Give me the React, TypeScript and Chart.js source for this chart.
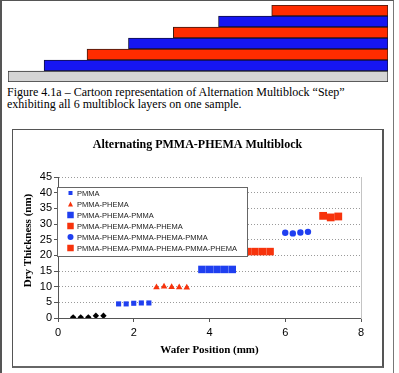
import React, { useEffect, useRef } from 'react';
import { Chart, registerables } from 'chart.js';

Chart.register(...registerables);

// ---------- data ----------
const chartTitle = 'Alternating PMMA-PHEMA Multiblock';
const xTitle = 'Wafer Position (mm)';
const yTitle = 'Dry Thickness (nm)';

const seriesLabels = [
  '',
  'PMMA',
  'PMMA-PHEMA',
  'PMMA-PHEMA-PMMA',
  'PMMA-PHEMA-PMMA-PHEMA',
  'PMMA-PHEMA-PMMA-PHEMA-PMMA',
  'PMMA-PHEMA-PMMA-PHEMA-PMMA-PHEMA',
];

const substrateX = [0.4, 0.6, 0.8, 1.0, 1.2];
const substrateY = [0.2, 0.2, 0.2, 0.7, 0.7];
const layer1X = [1.6, 1.8, 2.0, 2.2, 2.4];
const layer1Y = [4.5, 4.5, 4.7, 4.8, 4.8];
const layer2X = [2.6, 2.8, 3.0, 3.2, 3.4];
const layer2Y = [9.8, 10.0, 9.9, 9.8, 9.7];
const layer3X = [3.8, 4.0, 4.2, 4.4, 4.6];
const layer3Y = [15.5, 15.5, 15.5, 15.5, 15.5];
const layer4X = [5.0, 5.2, 5.4, 5.6];
const layer4Y = [21.2, 21.2, 21.2, 21.2];
const layer5X = [6.0, 6.2, 6.4, 6.6];
const layer5Y = [27.2, 27.0, 27.3, 27.5];
const layer6X = [7.0, 7.2, 7.4];
const layer6Y = [32.6, 32.1, 32.4];

const xTickMin = 0, xTickMax = 8, xTickStep = 2;
const yTickMin = 0, yTickMax = 45, yTickStep = 5;

// cartoon layers (top to bottom), start position in % of sample width
const cartoonLayers = ['PHEMA 6', 'PMMA 5', 'PHEMA 4', 'PMMA 3', 'PHEMA 2', 'PMMA 1', 'Substrate'];
const cartoonStart = [69.4, 55.4, 43.5, 31.7, 20.8, 9.5, 0];
const cartoonEnd = 100;

const captionLine1 = 'Figure 4.1a \u2013 Cartoon representation of Alternation Multiblock \u201cStep\u201d';
const captionLine2 = 'exhibiting all 6 multiblock layers on one sample.';

// ---------- styles ----------
const SERIF = '"Liberation Serif", "Times New Roman", serif';
const SANS = '"Liberation Sans", Arial, sans-serif';
const BLUE = '#1f3ff0';
const RED = '#f7330c';

const pts = (xs: number[], ys: number[]) => xs.map((x, i) => ({ x, y: ys[i] }));

function drawMarker(ctx: CanvasRenderingContext2D, style: string, x: number, y: number, s: number, color: string) {
  ctx.fillStyle = color;
  ctx.beginPath();
  if (style === 'rect') {
    ctx.rect(x - s / 2, y - s / 2, s, s);
  } else if (style === 'triangle') {
    ctx.moveTo(x, y - s / 2);
    ctx.lineTo(x + s / 2, y + s / 2);
    ctx.lineTo(x - s / 2, y + s / 2);
    ctx.closePath();
  } else if (style === 'circle') {
    ctx.arc(x, y, s / 2, 0, Math.PI * 2);
  } else {
    ctx.moveTo(x, y - s / 2);
    ctx.lineTo(x + s / 2, y);
    ctx.lineTo(x, y + s / 2);
    ctx.lineTo(x - s / 2, y);
    ctx.closePath();
  }
  ctx.fill();
}

const legendSizes = [4, 5, 6.5, 6.5, 6, 6.5];

const boxLegendPlugin = {
  id: 'boxLegend',
  afterDatasetsDraw(chart: any) {
    const { ctx, chartArea } = chart;
    const bx = Math.round(chartArea.left) - 1;
    const by = Math.round(chartArea.top) + 10;
    const bw = 190, bh = 69;
    ctx.save();
    ctx.fillStyle = '#fff';
    ctx.fillRect(bx, by, bw, bh);
    ctx.strokeStyle = '#666';
    ctx.lineWidth = 1;
    ctx.strokeRect(bx + 0.5, by + 0.5, bw, bh);
    let row = 0;
    chart.data.datasets.forEach((ds: any) => {
      if (!ds.label) return;
      const cy = by + 6 + row * 11;
      drawMarker(ctx, ds.pointStyle, bx + 13.5, cy, legendSizes[row], ds.backgroundColor);
      ctx.font = `7.5px ${SANS}`;
      ctx.fillStyle = '#222';
      ctx.textAlign = 'left';
      ctx.textBaseline = 'middle';
      ctx.fillText(ds.label, bx + 20, cy + 0.5);
      row++;
    });
    ctx.restore();
  },
};

const yTitlePlugin = {
  id: 'yTitleOffset',
  afterDraw(chart: any) {
    const { ctx, chartArea } = chart;
    ctx.save();
    ctx.translate(15, (chartArea.top + chartArea.bottom) / 2 - 7);
    ctx.rotate(-Math.PI / 2);
    ctx.font = `bold 11px ${SERIF}`;
    ctx.fillStyle = '#000';
    ctx.textAlign = 'center';
    ctx.textBaseline = 'middle';
    ctx.fillText(yTitle, 0, 0);
    ctx.restore();
  },
};

export default function App() {
  const cartoonRef = useRef<HTMLCanvasElement>(null);
  const chartRef = useRef<HTMLCanvasElement>(null);

  useEffect(() => {
    const cartoon = new Chart(cartoonRef.current as HTMLCanvasElement, {
      type: 'bar',
      data: {
        labels: cartoonLayers,
        datasets: [
          {
            data: cartoonStart.map((s) => [s, cartoonEnd]) as any,
            backgroundColor: ['#ff2c00', '#1616f2', '#ff2c00', '#1616f2', '#ff2c00', '#1616f2', '#d4d4d4'],
            borderColor: ['#3a1a10', '#101040', '#3a1a10', '#101040', '#3a1a10', '#101040', '#333'],
            borderWidth: 1,
            borderSkipped: false,
            categoryPercentage: 1,
            barPercentage: 1,
          } as any,
        ],
      },
      options: {
        indexAxis: 'y',
        animation: false,
        responsive: false,
        maintainAspectRatio: false,
        layout: { padding: 0 },
        plugins: { legend: { display: false }, tooltip: { enabled: false }, title: { display: false } },
        scales: {
          x: { display: false, min: 0, max: 100 },
          y: { display: false },
        },
      },
    });

    const markerStyles = ['rectRot', 'rect', 'triangle', 'rect', 'rect', 'circle', 'rect'];
    const markerColors = ['#000', BLUE, RED, BLUE, RED, BLUE, RED];
    const markerRadius = [3.2, 3.6, 3.8, 5.3, 5.3, 3.2, 5.5];
    const xs = [substrateX, layer1X, layer2X, layer3X, layer4X, layer5X, layer6X];
    const ys = [substrateY, layer1Y, layer2Y, layer3Y, layer4Y, layer5Y, layer6Y];

    const chart = new Chart(chartRef.current as HTMLCanvasElement, {
      type: 'scatter',
      data: {
        datasets: seriesLabels.map((label, i) => ({
          label,
          data: pts(xs[i], ys[i]),
          pointStyle: markerStyles[i],
          backgroundColor: markerColors[i],
          borderColor: markerColors[i],
          borderWidth: 0,
          pointRadius: markerRadius[i],
          showLine: false,
        })) as any,
      },
      options: {
        animation: false,
        responsive: false,
        maintainAspectRatio: false,
        layout: { padding: 0 },
        plugins: {
          legend: { display: false },
          tooltip: { enabled: false },
          title: {
            display: true,
            text: chartTitle,
            color: '#000',
            font: { family: SERIF, size: 12, weight: 'bold', lineHeight: 1.2 },
            padding: { top: 8, bottom: 24.6 },
          },
        },
        scales: {
          x: {
            type: 'linear',
            min: xTickMin,
            max: xTickMax,
            ticks: { stepSize: xTickStep, color: '#000', font: { family: SANS, size: 11 }, padding: 4, maxRotation: 0, autoSkip: false },
            grid: { drawOnChartArea: false, drawTicks: true, tickLength: 4, tickColor: '#555' },
            border: { color: '#555', width: 1 },
            title: {
              display: true,
              text: xTitle,
              color: '#000',
              font: { family: SERIF, size: 11, weight: 'bold', lineHeight: 1.2 },
              padding: { top: 0, bottom: 8.8 },
            },
            afterFit: (s: any) => {
              s.height = 48;
            },
          },
          y: {
            type: 'linear',
            min: yTickMin,
            max: yTickMax,
            ticks: { stepSize: yTickStep, color: '#000', font: { family: SANS, size: 11 }, padding: 2, autoSkip: false },
            grid: { color: '#9a9a9a', tickLength: 4, tickColor: '#555', tickBorderDash: [] },
            border: { color: '#555', width: 1, dash: [1, 2] },
            afterFit: (s: any) => {
              s.width = 45;
            },
          },
          y2: {
            type: 'linear',
            position: 'right',
            min: yTickMin,
            max: yTickMax,
            ticks: { display: false },
            grid: { display: false },
            border: { display: true, color: '#c4c4c4', width: 1 },
            afterFit: (s: any) => {
              s.width = 21;
            },
          },
        },
      } as any,
      plugins: [boxLegendPlugin, yTitlePlugin],
    });

    return () => {
      cartoon.destroy();
      chart.destroy();
    };
  }, []);

  return (
    <div style={{ position: 'absolute', left: 0, top: 0, width: 399, height: 373, background: '#fff', overflow: 'hidden' }}>
      <div
        style={{
          position: 'absolute',
          left: 0,
          top: 0,
          width: 391,
          height: 390,
          borderTop: '1px solid #555',
          borderLeft: '2px solid #555',
          borderRight: '1px solid #777',
        }}
      />
      <canvas ref={cartoonRef} width={380} height={77} style={{ position: 'absolute', left: 8, top: 5 }} />
      <div
        style={{
          position: 'absolute',
          left: 7,
          top: 86,
          fontFamily: SERIF,
          fontSize: '12px',
          lineHeight: '12px',
          color: '#000',
          whiteSpace: 'nowrap',
        }}
      >
        {captionLine1}
        <br />
        {captionLine2}
      </div>
      <div
        style={{
          position: 'absolute',
          left: 12,
          top: 129,
          width: 369,
          height: 236,
          borderTop: '1px solid #555',
          borderLeft: '1px solid #555',
          borderRight: '2px solid #555',
          borderBottom: '2px solid #666',
        }}
      >
        <canvas ref={chartRef} width={369} height={236} style={{ display: 'block' }} />
      </div>
    </div>
  );
}
